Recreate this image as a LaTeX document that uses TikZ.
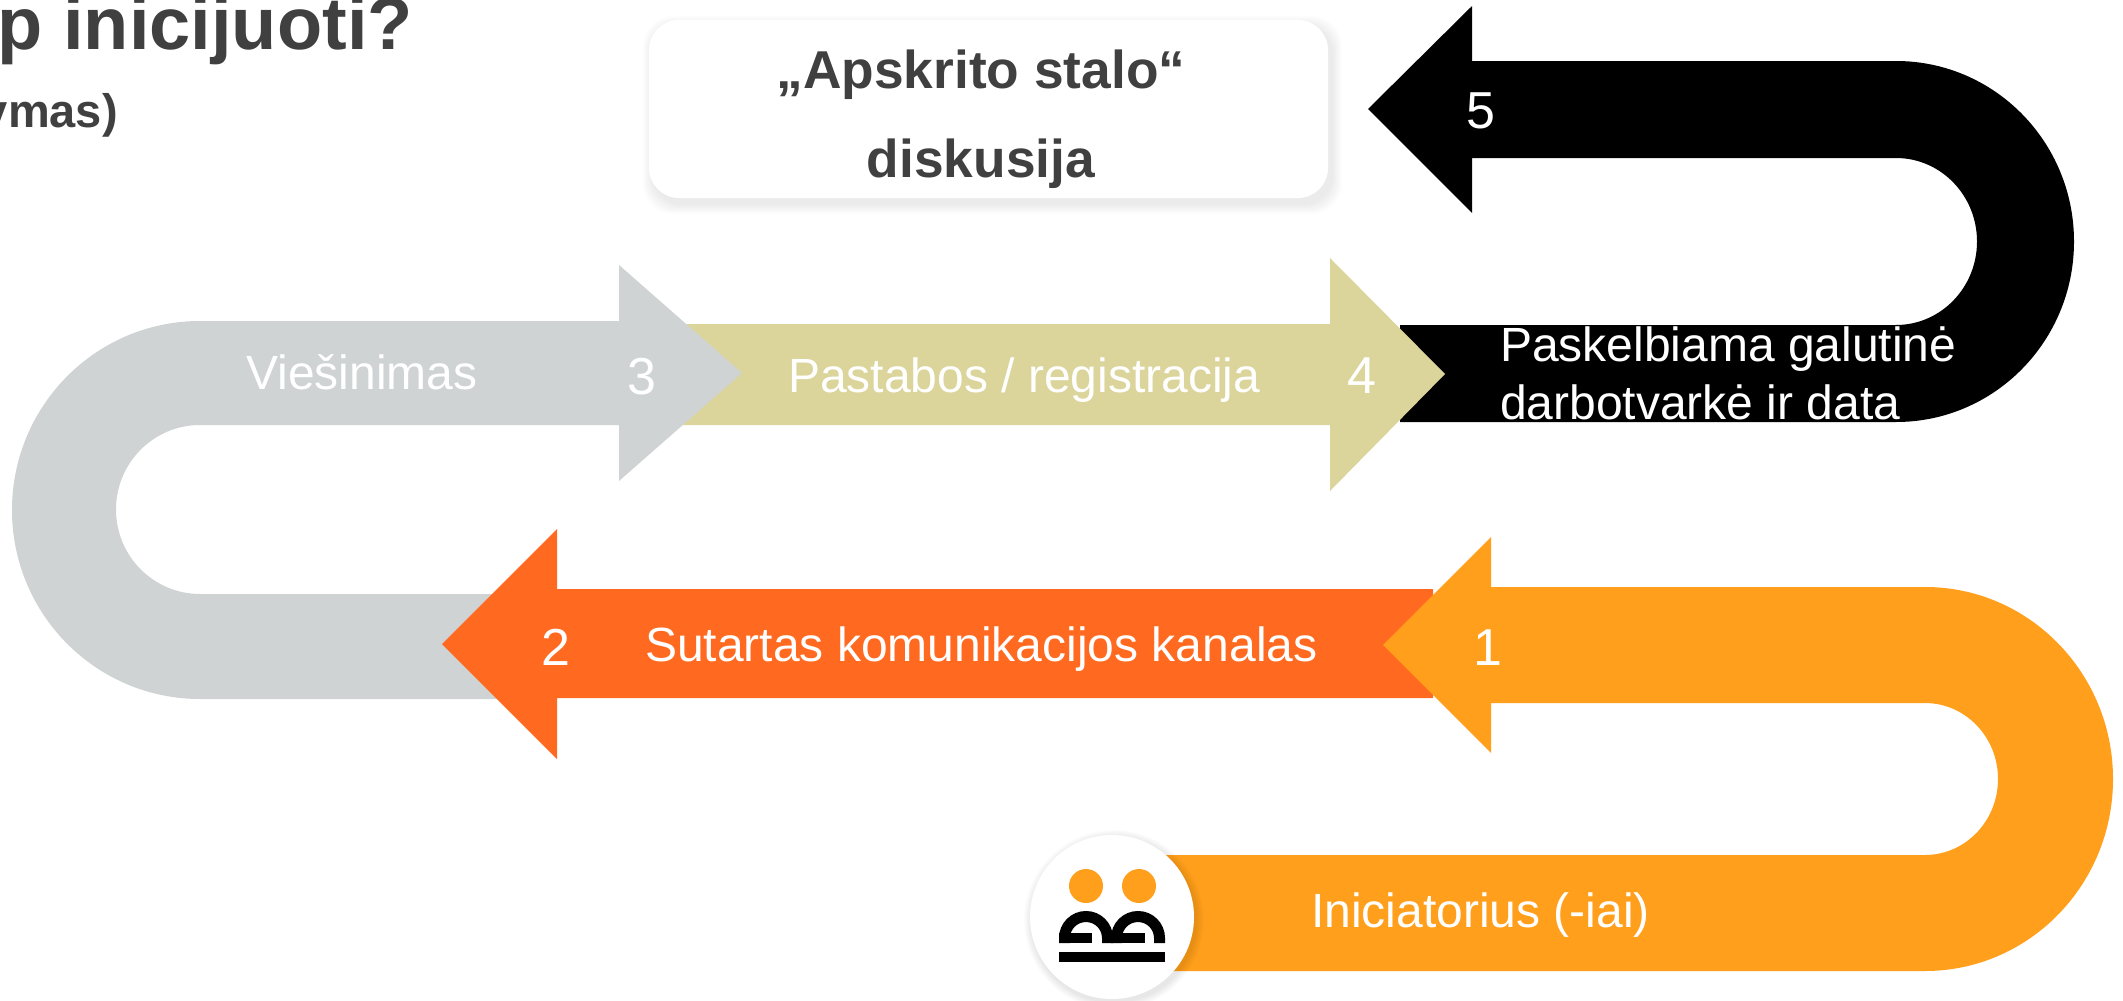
\documentclass[tikz,border=0pt]{standalone}
\usepackage{fontspec}
\setmainfont{Liberation Sans}
\definecolor{cOrange}{RGB}{255,159,28}
\definecolor{cRed}{RGB}{255,106,32}
\definecolor{cGrey}{RGB}{207,211,212}
\definecolor{cTan}{RGB}{219,213,155}
\definecolor{cDark}{RGB}{64,64,64}
\tikzset{
  lab/.style={text=white,inner sep=0pt,anchor=base west,font=\fontsize{48}{48}\selectfont},
  num/.style={text=white,inner sep=0pt,anchor=base,font=\fontsize{52}{52}\selectfont},
  head/.style={text=cDark,inner sep=0pt,anchor=base,font=\bfseries\fontsize{53.3}{53.3}\selectfont}
}
\begin{document}
\begin{tikzpicture}[x=1pt,y=-1pt]
\useasboundingbox (0,0) rectangle (2123,1001);
\fill[white] (0,0) rectangle (2123,1001);
% title
\node[text=cDark,inner sep=0pt,anchor=base east,font=\bfseries\fontsize{74}{74}\selectfont] (title) at (413,49) {p inicijuoti?};
\node[text=cDark,inner sep=0pt,anchor=base east,font=\bfseries\fontsize{47}{47}\selectfont] (subtitle) at (118,127) {vmas)};
% box shadow and box
\foreach \e in {1,2,...,10}{
  \fill[black,opacity=.008,rounded corners=30pt] (649+4-\e,20+6-\e) rectangle (1328+4+\e,198+6+\e);
}
\fill[white,rounded corners=30pt] (649,20) rectangle (1328,198);
\node[head] (box1) at (981,88) {„Apskrito stalo“};
\node[head] (box2) at (981,177) {diskusija};
% black arrow 5
\fill[black] (1400,325) -- (1896,325)
  arc[start angle=-90,end angle=90,x radius=81pt,y radius=83.5pt]
  -- (1472,158) -- (1472,213) -- (1368,109) -- (1472,6) -- (1472,61) -- (1896,61)
  arc[start angle=90,end angle=-90,x radius=178pt,y radius=180.5pt]
  -- (1400,422) -- cycle;
% tan arrow 4
\fill[cTan] (680,324) -- (1330,324) -- (1330,258) -- (1445,374) -- (1330,491) -- (1330,425) -- (680,425) -- cycle;
% grey arrow 3
\fill[cGrey] (500,594) -- (200,594)
  arc[start angle=270,end angle=90,x radius=84pt,y radius=84.5pt]
  -- (619,425) -- (619,481) -- (742,373) -- (619,265) -- (619,321) -- (200,321)
  arc[start angle=90,end angle=270,x radius=188pt,y radius=189pt]
  -- (500,699) -- cycle;
% red arrow 2
\fill[cRed] (1433,589) -- (557,589) -- (557,529) -- (442,644) -- (557,759) -- (557,698) -- (1433,698) -- cycle;
% orange arrow 1
\fill[cOrange] (1112,855) -- (1925,855)
  arc[start angle=-90,end angle=90,x radius=73pt,y radius=76pt]
  -- (1491,703) -- (1491,753) -- (1383,645) -- (1491,537) -- (1491,587) -- (1925,587)
  arc[start angle=90,end angle=-90,x radius=188pt,y radius=192pt]
  -- (1112,971) -- cycle;
% circle with shadow
\foreach \e in {1,2,...,8}{
  \fill[black,opacity=.012] (1114,920) circle[radius=82+\e];
}
\fill[white] (1112,917) circle[radius=82];
% icon
\fill[cOrange] (1086,886) circle[radius=17];
\fill[cOrange] (1139,886) circle[radius=17];
\fill[black] (1059,952) rectangle (1165,962);
\draw[black,line width=11pt,line cap=butt] (1064.5,943) -- (1064.5,938) arc[start angle=180,end angle=0,radius=21.5pt] -- (1107.5,943);
\draw[black,line width=11pt,line cap=butt] (1116.5,943) -- (1116.5,938) arc[start angle=180,end angle=0,radius=21.5pt] -- (1159.5,943);
\fill[black] (1059,933) rectangle (1092,943);
\fill[black] (1102,933) rectangle (1145,943);
% labels
\node[lab] (l5a) at (1500,361) {Paskelbiama galutinė};
\node[lab] (l5b) at (1500,419) {darbotvarkė ir data};
\node[lab] (l4) at (788,392) {Pastabos / registracija};
\node[lab] (l3) at (246,389) {Viešinimas};
\node[lab] (l2) at (645,661) {Sutartas komunikacijos kanalas};
\node[lab] (l1) at (1311,927) {Iniciatorius (-iai)};
\node[num] (n5) at (1481,128) {5};
\node[num] (n4) at (1362,393) {4};
\node[num] (n3) at (642,394) {3};
\node[num] (n2) at (556,665) {2};
\node[num] (n1) at (1488,665) {1};
\end{tikzpicture}
\end{document}
